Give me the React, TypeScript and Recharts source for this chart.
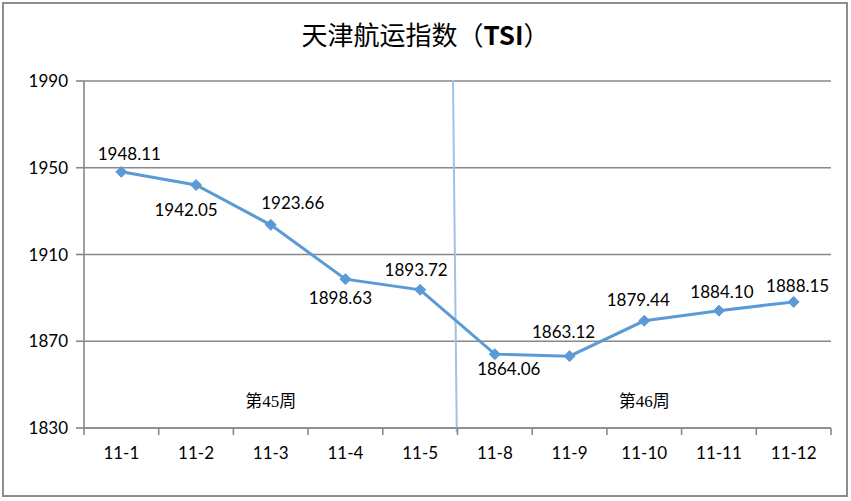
import React from "react";
import {
  LineChart,
  Line,
  XAxis,
  YAxis,
  CartesianGrid,
  ReferenceLine,
  ReferenceDot,
  LabelList,
} from "recharts";

// ---- data ----
const categories = ["11-1", "11-2", "11-3", "11-4", "11-5", "11-8", "11-9", "11-10", "11-11", "11-12"];
const tsiValues = [1948.11, 1942.05, 1923.66, 1898.63, 1893.72, 1864.06, 1863.12, 1879.44, 1884.1, 1888.15];
const yTicks = [1830, 1870, 1910, 1950, 1990];
const weekLabels = ["第45周", "第46周"];
const weekLabelCategories = ["11-3", "11-10"];
const weekLabelValue = 1842;
const weekBoundaryTop = 4.94; // week boundary between 11-5 and 11-8 (in category band units)
const weekBoundaryBottom = 4.99;
const title = "天津航运指数";
const titleCode = "TSI";

// ---- label layout (styling, not data) ----
const labelDx = [8, -10, 22, -5, -4, 14, -6, -6, 3, 4];
const labelDy = [-18, 25, -22, 18, -20, 14, -25, -21, -19, -16];

// ---- layout / style ----
const W = 851;
const H = 501;
const M = { top: 81, right: 20, bottom: 0, left: 0 };
const Y_W = 84;
const X_H = 73;
const PLOT_W = W - M.left - M.right - Y_W;
const BAND = PLOT_W / categories.length;
const GRID = "#888888";
const LINE = "#5b9bd5";
const FONT = "Lato, 'Noto Sans', sans-serif";

const data = categories.map((c, i) => ({ cat: c, pos: i + 0.5, tsi: tsiValues[i] }));

function XTick(props: any) {
  const { x, y, payload, index } = props;
  return (
    <g>
      <line x1={x - BAND / 2} x2={x - BAND / 2} y1={y} y2={y + 7} stroke={GRID} strokeWidth={1.6} />
      {index === categories.length - 1 && (
        <line x1={x + BAND / 2} x2={x + BAND / 2} y1={y} y2={y + 7} stroke={GRID} strokeWidth={1.6} />
      )}
      <text x={x} y={y + 31} textAnchor="middle" fontSize={17} fontFamily={FONT} fill="#000">
        {payload.value}
      </text>
    </g>
  );
}

function Diamond(props: any) {
  const { cx, cy } = props;
  if (cx == null || cy == null) return null;
  const r = 5.5;
  return (
    <polygon
      points={`${cx},${cy - r} ${cx + r},${cy} ${cx},${cy + r} ${cx - r},${cy}`}
      fill={LINE}
      stroke={LINE}
      strokeWidth={1}
    />
  );
}

function ValueLabel(props: any) {
  const { x, y, value, index } = props;
  return (
    <text
      x={x + labelDx[index]}
      y={y + labelDy[index]}
      textAnchor="middle"
      dominantBaseline="central"
      fontSize={17}
      fontFamily={FONT}
      fill="#000"
    >
      {Number(value).toFixed(2)}
    </text>
  );
}

function makeWeekLabel(text: string) {
  return (p: any) => {
    const vb = p.viewBox || {};
    const cx = (vb.x ?? 0) + (vb.width ?? 0) / 2;
    const cy = (vb.y ?? 0) + (vb.height ?? 0) / 2;
    return (
      <text
        x={cx}
        y={cy}
        textAnchor="middle"
        dominantBaseline="central"
        fontSize={17}
        fontFamily="'Liberation Serif', 'Noto Sans CJK SC', serif"
        fill="#000"
      >
        {text}
      </text>
    );
  };
}

export default function App() {
  return (
    <div style={{ position: "absolute", left: 0, top: 0, width: W, height: H, background: "#fff" }}>
      <div
        style={{
          position: "absolute",
          left: 2,
          top: 2,
          width: 846,
          height: 495,
          border: "2px solid #8d8d8d",
          boxSizing: "border-box",
          pointerEvents: "none",
        }}
      />
      <div
        style={{
          position: "absolute",
          left: 0,
          top: 16,
          width: W,
          textAlign: "center",
          fontSize: 26,
          lineHeight: "36px",
          fontFamily: "'Noto Sans CJK SC', sans-serif",
          color: "#000",
        }}
      >
        {title}（<b>{titleCode}</b>）
      </div>
      <LineChart width={W} height={H} data={data} margin={M}>
        <CartesianGrid horizontal vertical={false} stroke={GRID} strokeWidth={1.6} />
        <XAxis
          dataKey="cat"
          scale="band"
          interval={0}
          height={X_H}
          tickSize={0}
          tickMargin={0}
          tickLine={false}
          axisLine={{ stroke: GRID, strokeWidth: 1.6 }}
          tick={<XTick />}
        />
        <XAxis
          xAxisId="n"
          dataKey="pos"
          type="number"
          domain={[0, categories.length]}
          allowDataOverflow
          hide
        />
        <YAxis
          width={Y_W}
          domain={[1830, 1990]}
          ticks={yTicks}
          interval={0}
          tickSize={8}
          tickMargin={8}
          axisLine={{ stroke: GRID, strokeWidth: 1.6 }}
          tickLine={{ stroke: GRID, strokeWidth: 1.6 }}
          tick={{ fontSize: 17, fontFamily: FONT, fill: "#000" }}
        />
        <ReferenceLine
          xAxisId="n"
          segment={[
            { x: weekBoundaryTop, y: 1990.5 },
            { x: weekBoundaryBottom, y: 1828 },
          ]}
          stroke="#9dc3e6"
          strokeWidth={2}
          ifOverflow="visible"
        />
        {weekLabels.map((w, i) => (
          <ReferenceDot
            key={w}
            x={weekLabelCategories[i]}
            y={weekLabelValue}
            r={1}
            fill="none"
            stroke="none"
            label={makeWeekLabel(w)}
          />
        ))}
        <Line
          type="linear"
          dataKey="tsi"
          stroke={LINE}
          strokeWidth={3}
          dot={<Diamond />}
          activeDot={false}
          isAnimationActive={false}
        >
          <LabelList dataKey="tsi" content={<ValueLabel />} />
        </Line>
      </LineChart>
    </div>
  );
}
